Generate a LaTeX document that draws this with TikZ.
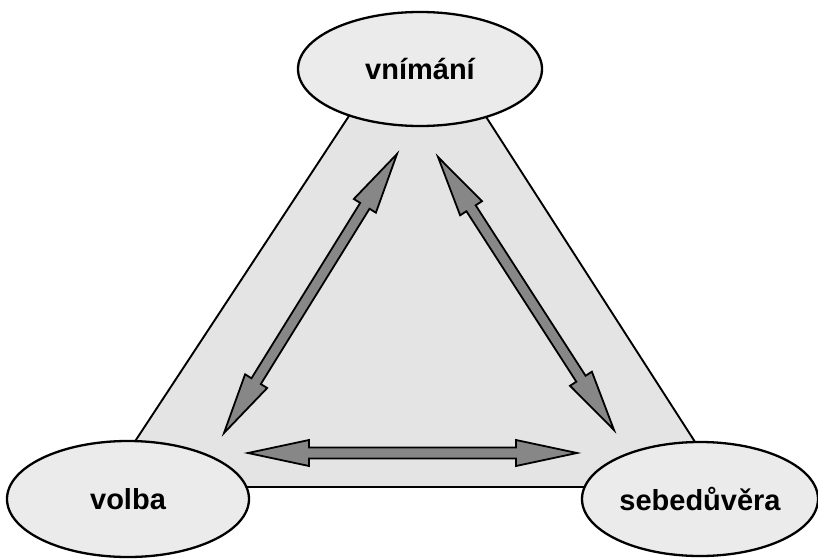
\documentclass[tikz,border=0pt]{standalone}
\usepackage{fontspec}
\setmainfont{Liberation Sans}
\usetikzlibrary{shapes.geometric,calc}
\definecolor{trifill}{HTML}{E4E4E4}
\definecolor{ellfill}{HTML}{EBEBEB}
\definecolor{arrfill}{HTML}{878787}
\tikzset{
  concept/.style={ellipse, draw=black, line width=2.3pt, fill=ellfill, inner sep=0pt,
    font=\fontsize{29}{34}\selectfont\bfseries},
  tri/.style={draw=black, line width=1.9pt, fill=trifill},
  blockarrow/.style={draw=black, line width=1.8pt, fill=arrfill, line join=miter},
}
\newcommand{\dblblock}[2]{%
  \path coordinate (#1-b) at ($(#1)!61pt!(#2)$);
  \path coordinate (#2-b) at ($(#2)!61pt!(#1)$);
  \draw[blockarrow] (#1)
    -- ($(#1-b)!13pt!90:(#2)$) -- ($(#1-b)!5.5pt!90:(#2)$)
    -- ($(#2-b)!5.5pt!-90:(#1)$) -- ($(#2-b)!13pt!-90:(#1)$)
    -- (#2)
    -- ($(#2-b)!13pt!90:(#1)$) -- ($(#2-b)!5.5pt!90:(#1)$)
    -- ($(#1-b)!5.5pt!-90:(#2)$) -- ($(#1-b)!13pt!-90:(#2)$)
    -- cycle;}
\begin{document}
\begin{tikzpicture}[x=1pt,y=1pt]
\useasboundingbox (0,0) rectangle (818,558);
\fill[white] (0,0) rectangle (818,558);
% triangle (apex hidden under the top ellipse)
\coordinate (apex) at ($(105,71)!0.97!(418,547)$);
\coordinate (apexr) at ($(724,71)!0.97!(418,547)$);
\coordinate (lft) at (105,71);
\coordinate (rgt) at (724,71);
\draw[tri] (apex) -- (lft) -- (rgt) -- (apexr) -- cycle;
% ellipses
\node[concept, minimum width=244pt, minimum height=114pt] (vnimani) at (420,489) {vnímání};
\node[concept, minimum width=242pt, minimum height=116pt] (volba) at (128,59) {volba};
\node[concept, minimum width=236pt, minimum height=114pt] (sebe) at (700,59) {sebedůvěra};
% arrow ends
\coordinate (a1) at (397,404);
\coordinate (a2) at (224,125);
\coordinate (b1) at (438,401);
\coordinate (b2) at (614,128);
\coordinate (c1) at (248,105);
\coordinate (c2) at (577,105);
\dblblock{a1}{a2}
\dblblock{b1}{b2}
\dblblock{c1}{c2}
\end{tikzpicture}
\end{document}
